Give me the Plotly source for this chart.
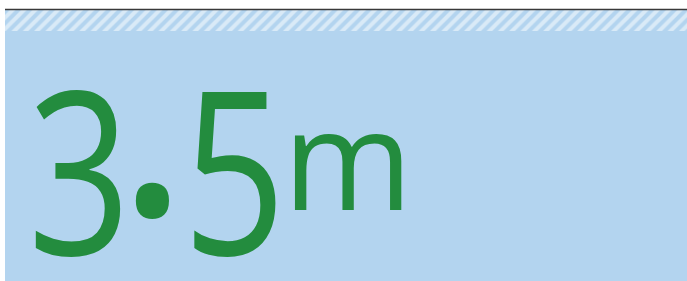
import json
import plotly.graph_objects as go

# data
value_parts = ["3", "·", "5"]   # 3.5 written with a raised decimal point
unit = ["m"]

W, H = 687, 281
BLUE = "#b3d4ef"
GREEN = "#238c3e"
FONT = "Open Sans"
WEIGHT = 500
DIGIT_SQUEEZE = 0.79   # reference digits are a narrower face than Open Sans

fig = go.Figure()

# hatched band at top
fig.add_trace(go.Bar(
    x=[(5 + W) / 2], y=[21], base=[10], width=[W - 5],
    marker=dict(color=BLUE, line=dict(width=0),
                pattern=dict(shape="/", fgcolor="white", bgcolor=BLUE, size=8, solidity=0.5)),
    hoverinfo="skip", showlegend=False,
))

shapes = [
    dict(type="rect", xref="x", yref="y", x0=5, x1=W, y0=10, y1=H,
         fillcolor=BLUE, line=dict(width=0), layer="below"),
    dict(type="line", xref="x", yref="y", x0=5, x1=W, y0=9.5, y1=9.5,
         line=dict(color="#3a3a3a", width=1.5)),
]

big = 228
ann = [
    dict(text=value_parts[0], x=12, y=166, size=big),
    dict(text=value_parts[1], x=113, y=189, size=285),
    dict(text=value_parts[2], x=166.5, y=166, size=big),
    dict(text=unit[0], x=281, y=155.4, size=140),
]
annotations = []
for a in ann:
    annotations.append(dict(text=a["text"], x=a["x"], y=a["y"], xref="x", yref="y",
                            xanchor="left", yanchor="middle", showarrow=False,
                            font=dict(family=FONT, color=GREEN, size=a["size"], weight=WEIGHT)))

fig.update_layout(
    width=W, height=H, margin=dict(l=0, r=0, t=0, b=0),
    paper_bgcolor="white", plot_bgcolor="white",
    xaxis=dict(range=[0, W], visible=False, fixedrange=True),
    yaxis=dict(range=[H, 0], visible=False, fixedrange=True),
    shapes=shapes, annotations=annotations, bargap=0,
)

digits = json.dumps([p for p in value_parts if p.isdigit()])
post = """
document.body.style.margin='0';
var gd=document.getElementById('{plot_id}');
function sq(){
  var ds=%s;
  document.querySelectorAll('text.annotation-text').forEach(function(t){
    if(ds.indexOf(t.textContent)>=0){
      t.style.transformBox='fill-box';
      t.style.transformOrigin='center';
      t.style.transform='scaleX(%s)';
    }
  });
}
sq();
if(gd && gd.on){ gd.on('plotly_afterplot', sq); }
""" % (digits, DIGIT_SQUEEZE)

fig.write_html("out.html", config={"displayModeBar": False}, post_script=post)
